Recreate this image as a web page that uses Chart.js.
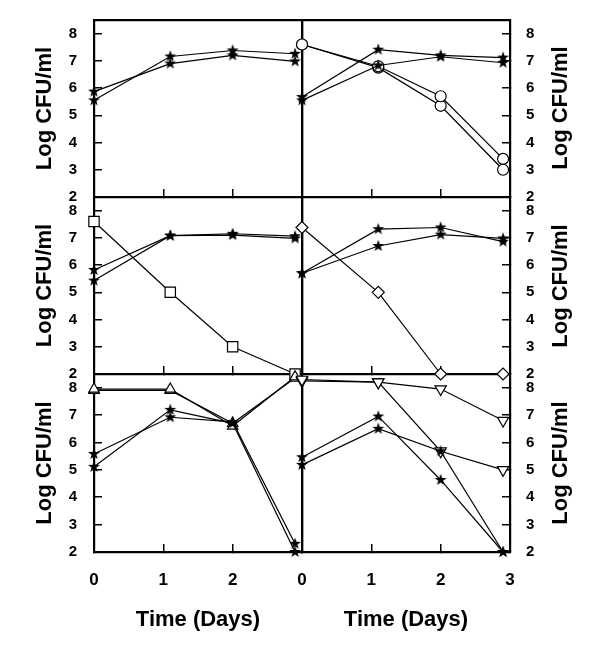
<!DOCTYPE html>
<html>
<head>
<meta charset="utf-8">
<script src="https://cdn.jsdelivr.net/npm/chart.js@4.4.0/dist/chart.umd.min.js"></script>
<style>
  html, body { margin: 0; padding: 0; background: #fff; }
  #wrap { position: relative; width: 600px; height: 649px; }
  #wrap canvas { position: absolute; left: 0; top: 0; }
  .ylab { position: absolute; font: bold 22px 'Liberation Sans', Arial, sans-serif; color: #000;
          white-space: nowrap; transform: translate(-50%, -50%) rotate(-90deg); }
</style>
</head>
<body>
<div id="wrap">
  <canvas id="pA" width="600" height="649"></canvas>
  <canvas id="pB" width="600" height="649"></canvas>
  <canvas id="pC" width="600" height="649"></canvas>
  <canvas id="pD" width="600" height="649"></canvas>
  <canvas id="pE" width="600" height="649"></canvas>
  <canvas id="pF" width="600" height="649"></canvas>
  <div class="ylab" style="left:560px;top:108px">Log CFU/ml</div>
  <div class="ylab" style="left:560px;top:286px">Log CFU/ml</div>
  <div class="ylab" style="left:560px;top:463px">Log CFU/ml</div>
</div>
<script>
const days = [0, 1.1, 2, 2.9];
const dayTicks = [0, 1, 2, 3];
const dayLabelsLeft = ['0', '1', '2', ''];
const dayLabelsRight = ['0', '1', '2', '3'];
const logTicks = [2, 3, 4, 5, 6, 7, 8];

// top row
const starA1 = [5.87, 6.9, 7.2, 6.98];
const starA2 = [5.55, 7.16, 7.38, 7.26];
const circleB1 = [7.6, 6.8, 5.7, 3.4];
const circleB2 = [7.6, 6.75, 5.35, 3.0];
const starB1 = [5.67, 7.41, 7.2, 7.12];
const starB2 = [5.55, 6.83, 7.15, 6.93];
// middle row
const squareC = [7.6, 5.0, 3.0, 2.0];
const starC1 = [5.82, 7.08, 7.15, 7.06];
const starC2 = [5.43, 7.08, 7.1, 6.98];
const diamondD = [7.38, 5.0, 2.0, 2.0];
const starD1 = [5.7, 7.32, 7.38, 6.86];
const starD2 = [5.7, 6.7, 7.12, 6.98];
// bottom row
const triE1 = [7.95, 7.95, 6.6, 8.4];
const triE2 = [7.9, 7.9, 6.7, 8.35];
const starE1 = [5.58, 6.92, 6.75, 2.3];
const starE2 = [5.11, 7.19, 6.7, 2.0];
const triF1 = [8.3, 8.2, 7.95, 6.8];
const triF2 = [8.25, 8.2, 5.68, 5.0];
const starF1 = [5.46, 6.95, 4.63, 2.0];
const starF2 = [5.18, 6.5, 5.68, 2.0];

Chart.defaults.font.family = "'Liberation Sans', Arial, sans-serif";
Chart.defaults.color = '#000';

// filled five point star used as marker
const star = document.createElement('canvas');
star.width = star.height = 14;
const sc = star.getContext('2d');
sc.beginPath();
for (let k = 0; k < 10; k++) {
    const r = k % 2 ? 2.5 : 6.3;
    const a = -Math.PI / 2 + k * Math.PI / 5;
    sc.lineTo(7 + r * Math.cos(a), 7 + r * Math.sin(a));
}
sc.closePath();
sc.fillStyle = '#000';
sc.fill();

const pts = ys => ys.map((y, i) => ({x: days[i], y: y}));

const series = (ys, style, radius, rotation) => ({
    data: pts(ys),
    borderColor: '#000',
    borderWidth: 1.2,
    pointStyle: style,
    pointRadius: radius,
    pointRotation: rotation || 0,
    pointBorderColor: '#000',
    pointBackgroundColor: '#fff',
    pointBorderWidth: 1.2,
    clip: false
});

const colL = [94, 302], colR = [302, 510];
const rowT = [20, 197, 374], rowB = [197, 374, 552];
const lineOpts = {color: '#000', lineWidth: 1.5};
const borderOpts = {display: true, color: '#000', width: 2.2};

const panel = (id, col, row, datasets) => {
    const bottom = row === 2;
    const labels = col === 0 ? dayLabelsLeft : dayLabelsRight;
    const scales = {
        x: {
            type: 'linear', position: 'bottom', min: 0, max: 3, z: 1,
            afterBuildTicks: s => { s.ticks = dayTicks.map(v => ({value: v})); },
            afterFit: s => {
                s.height = bottom ? 81 : 0;
                s.paddingLeft = s.paddingRight = 0;
            },
            grid: {...lineOpts, drawOnChartArea: false, drawTicks: true, tickLength: -8},
            border: borderOpts,
            ticks: {display: bottom, autoSkip: false, maxRotation: 0, padding: 26,
                    font: {size: 17, weight: 'bold'}, callback: (v, i) => labels[i]},
            title: {display: bottom, text: 'Time (Days)', padding: 0,
                    font: {size: 22, weight: 'bold'}}
        },
        y: {
            position: col === 0 ? 'left' : 'right', min: 2, max: 8.5, z: 1,
            afterBuildTicks: s => { s.ticks = logTicks.map(v => ({value: v})); },
            afterFit: s => {
                s.width = col === 0 ? 74 : 80;
                // keep label padding from pushing the plot area
                s.paddingTop = s.paddingBottom = 0;
            },
            grid: {...lineOpts, drawOnChartArea: false, drawTicks: true, tickLength: -8},
            border: borderOpts,
            ticks: {autoSkip: false, padding: col === 0 ? 25 : 24, font: {size: 15, weight: 'bold'}},
            title: {display: col === 0, text: 'Log CFU/ml', padding: {top: 12},
                    font: {size: 22, weight: 'bold'}}
        },
        y2: {
            position: col === 0 ? 'right' : 'left', z: 1,
            afterFit: s => { s.width = 0; },
            grid: {display: false}, ticks: {display: false},
            border: borderOpts
        }
    };
    if (row === 0) {
        scales.x2 = {
            type: 'linear', position: 'top', z: 1,
            afterFit: s => { s.height = 0; },
            grid: {display: false}, ticks: {display: false},
            border: borderOpts
        };
    }
    const [L, R] = col === 0 ? colL : colR;
    const padding = {
        left: col === 0 ? L - 74 : L,
        right: col === 0 ? 600 - R : 600 - R - 80,
        top: rowT[row],
        bottom: 649 - rowB[row] - (bottom ? 81 : 0)
    };
    return new Chart(document.getElementById(id), {
        type: 'line',
        data: {datasets: datasets},
        options: {
            responsive: false,
            animation: false,
            events: [],
            layout: {padding: padding},
            plugins: {legend: {display: false}, tooltip: {enabled: false}},
            scales: scales
        }
    });
};

panel('pA', 0, 0, [series(starA1, star, 6), series(starA2, star, 6)]);
panel('pB', 1, 0, [series(starB1, star, 6), series(starB2, star, 6),
                   series(circleB1, 'circle', 5.5), series(circleB2, 'circle', 5.5)]);
panel('pC', 0, 1, [series(starC1, star, 6), series(starC2, star, 6), series(squareC, 'rect', 7.3)]);
panel('pD', 1, 1, [series(starD1, star, 6), series(starD2, star, 6), series(diamondD, 'rectRot', 6)]);
panel('pE', 0, 2, [series(starE1, star, 6), series(starE2, star, 6),
                   series(triE1, 'triangle', 6), series(triE2, 'triangle', 6)]);
panel('pF', 1, 2, [series(starF1, star, 6), series(starF2, star, 6),
                   series(triF1, 'triangle', 6.5, 180), series(triF2, 'triangle', 6.5, 180)]);
</script>
</body>
</html>
